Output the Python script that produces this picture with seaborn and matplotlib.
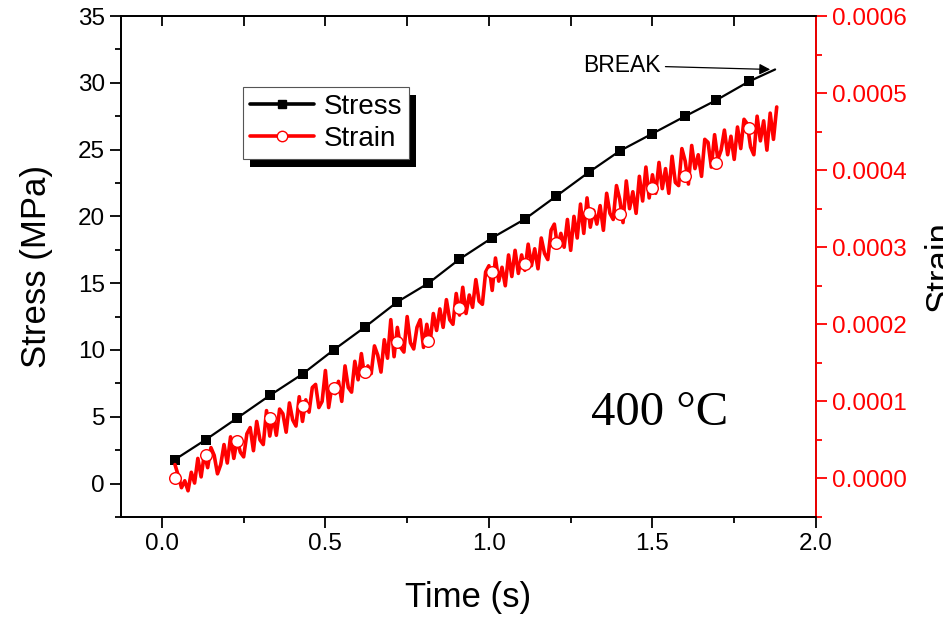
import numpy as np
import pandas as pd
import matplotlib
matplotlib.use("Agg")
import matplotlib.pyplot as plt
from matplotlib.lines import Line2D
from matplotlib.patches import Rectangle
from matplotlib.ticker import MultipleLocator, FormatStrFormatter
from matplotlib.transforms import IdentityTransform
import seaborn as sns

# ---------------- data ----------------
marker_time = [0.04, 0.135, 0.23, 0.33, 0.43, 0.525, 0.62, 0.72, 0.815, 0.91,
               1.01, 1.11, 1.205, 1.305, 1.40, 1.50, 1.60, 1.695, 1.795]
stress_markers = [1.8, 3.3, 4.9, 6.6, 8.2, 10.0, 11.7, 13.6, 15.0, 16.8,
                  18.4, 19.8, 21.5, 23.3, 24.9, 26.2, 27.5, 28.7, 30.1]
stress_end_time = 1.875
stress_end_value = 31.0

strain_markers_ue = [0, 31, 49, 79, 94, 118, 138, 177, 178, 221,
                     268, 278, 305, 345, 343, 377, 392, 409, 455]

strain_t0 = 0.04
strain_dt = 0.01
strain_line_ue = [
    18, 4, -12, -3, -16, 8, -6, 26, 2, 32,
    14, 40, 30, 6, 18, 44, 20, 54, 26, 50,
    34, 28, 58, 66, 36, 74, 50, 44, 88, 55,
    80, 56, 90, 84, 60, 98, 76, 68, 106, 74,
    102, 86, 118, 122, 92, 100, 140, 92, 120, 110,
    126, 100, 146, 118, 112, 152, 128, 162, 132, 146,
    136, 172, 160, 138, 180, 156, 206, 158, 196, 170,
    164, 210, 176, 168, 196, 206, 170, 200, 176, 214,
    192, 220, 196, 232, 206, 200, 240, 212, 248, 214,
    238, 222, 258, 230, 226, 268, 276, 244, 286, 256,
    274, 250, 290, 262, 296, 266, 290, 270, 304, 276,
    298, 272, 312, 292, 284, 322, 330, 300, 318, 300,
    336, 296, 340, 312, 356, 318, 364, 326, 348, 330,
    354, 322, 370, 344, 336, 380, 362, 332, 386, 350,
    372, 344, 392, 360, 404, 364, 394, 370, 410, 376,
    402, 370, 418, 384, 380, 428, 412, 382, 432, 402,
    420, 392, 440, 436, 404, 446, 414, 426, 452, 420,
    444, 414, 456, 428, 466, 460, 430, 420, 470, 438,
    464, 426, 474, 440, 482,
]

# ---------------- build frames ----------------
stress_df = pd.DataFrame({
    "time": marker_time + [stress_end_time],
    "stress": stress_markers + [stress_end_value],
})
strain_time = strain_t0 + strain_dt * np.arange(len(strain_line_ue))
strain_df = pd.DataFrame({"time": strain_time,
                          "strain": np.array(strain_line_ue) * 1e-6})
strain_mk_df = pd.DataFrame({"time": marker_time,
                             "strain": np.array(strain_markers_ue) * 1e-6})
stress_mk_df = pd.DataFrame({"time": marker_time, "stress": stress_markers})

# ---------------- style ----------------
sns.set_style("ticks")
plt.rcParams["font.family"] = ["Liberation Sans", "DejaVu Sans"]
plt.rcParams["axes.linewidth"] = 1.3
plt.rcParams["axes.edgecolor"] = "black"
plt.rcParams["axes.labelcolor"] = "black"
plt.rcParams["text.color"] = "black"
plt.rcParams["xtick.color"] = "black"
plt.rcParams["ytick.color"] = "black"

fig = plt.figure(figsize=(9.43, 6.21), dpi=100)
ax = fig.add_axes([0.1283, 0.1675, 0.737, 0.8067])
ax2 = ax.twinx()

RED = "#ff0000"

# stress
sns.lineplot(data=stress_df, x="time", y="stress", ax=ax, color="black",
             linewidth=1.6, errorbar=None, zorder=3)
sns.scatterplot(data=stress_mk_df, x="time", y="stress", ax=ax, color="black",
                marker="s", s=50, edgecolor="black", linewidth=0, zorder=4)

# strain
sns.lineplot(data=strain_df, x="time", y="strain", ax=ax2, color=RED,
             linewidth=2.6, errorbar=None, zorder=3)
sns.scatterplot(data=strain_mk_df, x="time", y="strain", ax=ax2,
                marker="o", s=70, facecolor="white", edgecolor=RED,
                linewidth=1.0, zorder=4)

# axes limits
ax.set_xlim(-0.125, 2.0)
ax.set_ylim(-2.5, 35)
ax2.set_ylim(-0.00005, 0.0006)

ax.xaxis.set_major_locator(MultipleLocator(0.5))
ax.xaxis.set_minor_locator(MultipleLocator(0.25))
ax.xaxis.set_major_formatter(FormatStrFormatter("%.1f"))
ax.yaxis.set_major_locator(MultipleLocator(5))
ax.yaxis.set_minor_locator(MultipleLocator(2.5))
ax2.yaxis.set_major_locator(MultipleLocator(0.0001))
ax2.yaxis.set_minor_locator(MultipleLocator(0.00005))
ax2.yaxis.set_major_formatter(FormatStrFormatter("%.4f"))

ax.tick_params(axis="both", which="major", direction="out", length=8,
               width=1.3, labelsize=17.5, colors="black")
ax.tick_params(axis="both", which="minor", direction="out", length=4,
               width=1.3, colors="black")
ax.tick_params(axis="x", which="both", top=True)
# top ticks inward
for t in ax.xaxis.get_major_ticks() + ax.xaxis.get_minor_ticks():
    t.tick2line.set_marker(matplotlib.lines.TICKDOWN)
    t.tick2line.set_markersize(7)

ax2.tick_params(axis="y", which="major", direction="out", length=8,
                width=1.3, labelsize=17.5, colors=RED)
ax2.tick_params(axis="y", which="minor", direction="out", length=4,
                width=1.3, colors=RED)
ax2.spines["right"].set_color(RED)
ax2.spines["right"].set_linewidth(1.3)

ax.set_xlabel("Time (s)", fontsize=25, labelpad=19, color="black")
ax.set_ylabel("Stress (MPa)", fontsize=25, labelpad=18, color="black")
ax2.set_ylabel("Strain", fontsize=25, labelpad=12, color="black")

# annotations
ax.text(1.523, 4.41, "400 °C", fontsize=35, family="Liberation Serif",
        ha="center", va="baseline")
ax.annotate("BREAK", xy=(1.86, 31.0), xytext=(1.407, 31.3),
            textcoords="data", fontsize=16.5, ha="center", va="center",
            arrowprops=dict(arrowstyle="-|>", color="black", lw=0.9,
                            shrinkA=1, shrinkB=0, mutation_scale=16))

# legend
handles = [
    Line2D([], [], color="black", lw=2.6, marker="s", markersize=6,
           markerfacecolor="black", markeredgecolor="black"),
    Line2D([], [], color=RED, lw=2.6, marker="o", markersize=7.5,
           markerfacecolor="white", markeredgecolor=RED),
]
leg = ax2.legend(handles, ["Stress", "Strain"], loc="upper left",
                 bbox_to_anchor=(0.1755, 0.858), fontsize=20, frameon=True,
                 fancybox=False, edgecolor="#555555", framealpha=1,
                 handlelength=2.3, handletextpad=0.35, borderpad=0.25,
                 labelspacing=0.2, borderaxespad=0)
leg.get_frame().set_linewidth(0.8)
leg.set_zorder(10)

fig.canvas.draw()
bb = leg.get_window_extent()
shadow = Rectangle((bb.x0 + 7, bb.y0 - 8), bb.width, bb.height,
                   transform=IdentityTransform(), facecolor="black",
                   edgecolor="none", zorder=9, clip_on=False)
ax2.add_artist(shadow)

fig.savefig("out.png", dpi=100)
